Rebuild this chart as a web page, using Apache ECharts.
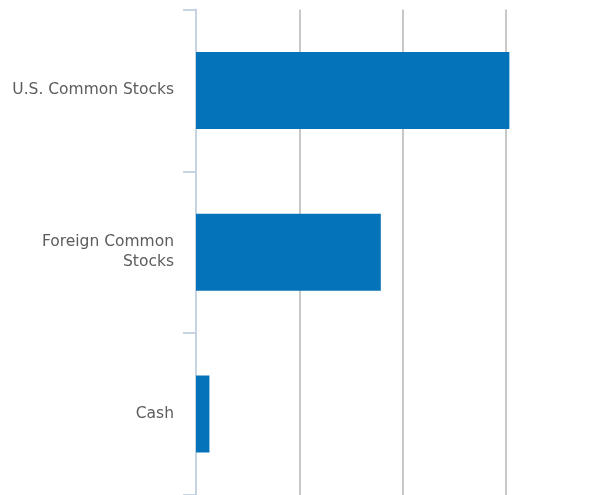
<!DOCTYPE html>
<html>
<head>
<meta charset="utf-8">
<script src="https://cdn.jsdelivr.net/npm/echarts@6/dist/echarts.min.js"></script>
<style>html,body{margin:0;padding:0;background:#fff}#c{width:609px;height:495px}</style>
</head>
<body>
<div id="c"></div>
<script>
var categories = ["U.S. Common Stocks", "Foreign Common\nStocks", "Cash"];
var values = [60.7, 35.8, 2.6];
var xMin = 0, xMax = 80, xInterval = 20;

var chart = echarts.init(document.getElementById('c'), null, {renderer: 'canvas'});
chart.setOption({
  animation: false,
  grid: {left: 196, top: 9.5, right: 0, height: 488, containLabel: false},
  xAxis: {
    type: 'value', min: xMin, max: xMax, interval: xInterval,
    axisLabel: {show: false}, axisLine: {show: false}, axisTick: {show: false},
    splitLine: {show: true, showMaxLine: false, lineStyle: {color: '#c8c8c8', width: 2}}
  },
  yAxis: {
    type: 'category', data: categories, inverse: true,
    axisLine: {show: true, lineStyle: {color: '#c6d3e1', width: 2}},
    axisTick: {show: true, length: 13, lineStyle: {color: '#c6d3e1', width: 2}},
    axisLabel: {color: '#5c5c5c', fontFamily: 'DejaVu Sans', fontSize: 15.5, margin: 22, lineHeight: 20, align: 'right'}
  },
  series: [{
    type: 'bar', data: values, barWidth: 77,
    itemStyle: {color: '#0573b9'}
  }]
});
</script>
</body>
</html>
